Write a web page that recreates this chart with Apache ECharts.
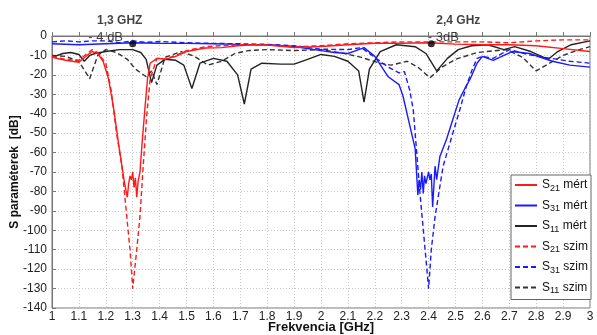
<!DOCTYPE html>
<html>
<head>
<meta charset="utf-8">
<script src="https://cdn.jsdelivr.net/npm/echarts@6/dist/echarts.min.js"></script>
<style>html,body{margin:0;padding:0;background:#fff}#c{width:597px;height:335px}</style>
</head>
<body>
<div id="c"></div>
<script>
// ---- data (frequency GHz, dB) ----
const s21Mert = [[1.0,-11],[1.05,-12.5],[1.1,-13.5],[1.13,-10],[1.15,-8],[1.17,-9],[1.19,-13],[1.21,-22],[1.23,-38],[1.25,-58],[1.27,-76],[1.28,-83],[1.285,-76],[1.29,-72],[1.295,-74],[1.30,-70],[1.305,-78],[1.31,-73],[1.315,-83],[1.32,-75],[1.327,-70],[1.335,-55],[1.345,-38],[1.355,-22],[1.365,-14],[1.39,-11.5],[1.42,-12],[1.46,-10.5],[1.5,-8],[1.57,-6.2],[1.63,-6],[1.69,-5],[1.75,-4.5],[1.8,-4.7],[1.9,-6],[2.0,-5.4],[2.1,-4.5],[2.2,-3.7],[2.3,-3.7],[2.4,-3.5],[2.5,-4.2],[2.6,-4.5],[2.7,-4.5],[2.8,-5],[2.9,-6.5],[3.0,-8]];
const s31Mert = [[1.0,-4],[1.1,-4.5],[1.2,-4],[1.3,-3.5],[1.4,-3.7],[1.5,-3.8],[1.6,-4],[1.7,-4.3],[1.8,-4.5],[1.9,-5.4],[2.0,-7.5],[2.05,-8.5],[2.1,-9],[2.13,-7.5],[2.16,-6],[2.2,-10.5],[2.25,-21],[2.29,-25],[2.305,-31],[2.325,-43],[2.35,-58],[2.356,-72],[2.36,-82],[2.365,-74],[2.37,-79],[2.375,-70],[2.38,-81],[2.385,-72],[2.39,-76],[2.40,-70],[2.405,-74],[2.41,-71],[2.415,-88],[2.424,-67],[2.43,-74],[2.442,-62],[2.467,-53],[2.49,-43],[2.513,-33],[2.535,-27],[2.555,-22],[2.58,-14],[2.6,-10.5],[2.64,-12.5],[2.71,-8],[2.775,-9],[2.86,-13],[2.925,-15],[3.0,-16]];
const s11Mert = [[1.0,-11],[1.04,-9],[1.07,-8.5],[1.10,-9.5],[1.12,-13],[1.14,-10],[1.16,-9],[1.20,-8],[1.25,-7],[1.30,-7],[1.33,-8.5],[1.35,-12],[1.37,-24],[1.39,-15],[1.42,-12],[1.46,-12.5],[1.49,-15],[1.52,-27],[1.55,-14],[1.60,-11.5],[1.65,-13],[1.69,-20],[1.715,-35],[1.74,-17],[1.78,-14],[1.85,-14.5],[1.9,-14.5],[1.95,-12],[2.0,-9.5],[2.05,-10.5],[2.1,-13],[2.14,-18],[2.16,-34],[2.18,-17],[2.22,-8],[2.28,-4.5],[2.35,-5.5],[2.39,-9],[2.43,-18],[2.47,-11.5],[2.51,-7],[2.56,-5],[2.62,-4.5],[2.68,-7],[2.72,-5.5],[2.78,-8],[2.845,-12],[2.88,-8],[2.93,-4.5],[3.0,-2.5]];
const s21Szim = [[1.0,-10.5],[1.05,-12],[1.1,-12.5],[1.13,-9],[1.15,-7],[1.17,-8.5],[1.2,-14],[1.22,-28],[1.24,-50],[1.26,-67],[1.278,-93],[1.29,-110],[1.30,-130],[1.315,-110],[1.327,-93],[1.339,-67],[1.352,-41],[1.365,-22],[1.39,-11.5],[1.42,-12],[1.46,-10],[1.5,-7.5],[1.57,-5.5],[1.63,-5],[1.7,-4.5],[1.8,-4.5],[1.9,-5.5],[2.0,-5],[2.1,-4],[2.2,-3.5],[2.3,-3],[2.4,-3],[2.5,-3],[2.6,-3],[2.7,-3.5],[2.8,-2.5],[2.9,-2],[3.0,-2]];
const s31Szim = [[1.0,-3],[1.05,-2.5],[1.1,-3],[1.15,-2.5],[1.2,-2.5],[1.25,-3.5],[1.3,-2.5],[1.35,-3.3],[1.4,-2.8],[1.5,-3.5],[1.6,-3.8],[1.7,-4],[1.8,-4.3],[1.9,-5],[2.0,-6.8],[2.1,-7],[2.15,-6],[2.2,-11],[2.25,-16],[2.29,-19],[2.31,-18.3],[2.33,-28],[2.343,-38],[2.368,-81],[2.387,-110],[2.4,-130],[2.41,-110],[2.424,-93],[2.454,-67],[2.49,-50],[2.516,-38],[2.54,-26],[2.56,-18],[2.58,-11.5],[2.6,-10.5],[2.64,-11.5],[2.7,-7],[2.775,-9.7],[2.85,-11.4],[2.925,-13],[3.0,-14]];
const s11Szim = [[1.0,-10],[1.05,-10.5],[1.1,-13],[1.14,-22],[1.17,-10],[1.2,-7],[1.24,-8.5],[1.28,-12],[1.31,-17],[1.35,-21],[1.37,-18],[1.39,-25],[1.42,-11],[1.48,-8],[1.53,-10.5],[1.58,-15],[1.63,-13],[1.68,-9],[1.73,-7.5],[1.8,-7],[1.9,-7.5],[2.0,-7],[2.07,-8.5],[2.15,-11],[2.22,-14],[2.26,-15],[2.32,-13],[2.36,-16],[2.405,-21.5],[2.45,-16],[2.5,-12],[2.58,-8.5],[2.69,-7],[2.75,-11],[2.80,-18],[2.85,-14],[2.9,-10],[2.96,-7],[3.0,-5.5]];
const markerPoints = [[1.3,-4],[2.41,-4]];
const markerTitles = ['1,3 GHZ','2,4 GHz'];
const markerDb = ['- 4 dB','- 3dB'];
const legendNames = ['S21 mért','S31 mért','S11 mért','S21 szim','S31 szim','S11 szim'];

const FONT = 'Liberation Sans, Arial, sans-serif';
const chart = echarts.init(document.getElementById('c'), null, {renderer:'canvas'});
const dash = [5,3];
function lineSeries(name, data, color, dashed, z){
  return {name, type:'line', data, symbol:'none', showSymbol:false, z,
    lineStyle:{color, width:1.4, type: dashed ? dash : 'solid'}, itemStyle:{color},
    emphasis:{disabled:true}, animation:false};
}
const titleOffsets = [[-13,-23],[27,-23]];
const dbOffsets = [[-27,-6],[12,-6]];
chart.setOption({
  animation:false,
  grid:{left:52,right:7,top:36,bottom:27,show:true,borderColor:'#777',borderWidth:1,containLabel:false,outerBoundsMode:'none'},
  xAxis:{type:'value',min:1,max:3,interval:0.1,
    name:'Frekvencia [GHz]',nameLocation:'middle',nameGap:13,nameMoveOverlap:false,
    nameTextStyle:{fontFamily:FONT,fontWeight:'bold',fontSize:13,color:'#111'},
    axisLine:{lineStyle:{color:'#777'}},axisTick:{inside:true,length:4,lineStyle:{color:'#777'}},
    axisLabel:{fontFamily:FONT,fontSize:12,color:'#222',margin:3},
    splitLine:{show:true,lineStyle:{color:'#c8c8c8',type:[1,2]}}},
  yAxis:{type:'value',min:-140,max:0,interval:10,
    name:'S paraméterek  [dB]',nameLocation:'middle',nameGap:31,nameMoveOverlap:false,
    nameTextStyle:{fontFamily:FONT,fontWeight:'bold',fontSize:12,color:'#111'},
    axisLine:{show:true,lineStyle:{color:'#777'}},axisTick:{show:true,inside:true,length:4,lineStyle:{color:'#777'}},
    axisLabel:{fontFamily:FONT,fontSize:12,color:'#222',margin:5},
    splitLine:{show:true,lineStyle:{color:'#c8c8c8',type:[1,2]}}},
  legend:{data:legendNames,orient:'vertical',left:511,top:175,
    backgroundColor:'#fff',borderColor:'#666',borderWidth:1,padding:[4,3,4,3],
    itemWidth:22,itemHeight:14,itemGap:6.5,
    itemStyle:{opacity:0,borderWidth:0},
    textStyle:{fontFamily:FONT,fontSize:12,color:'#111',
      rich:{m:{fontFamily:FONT,fontSize:12,color:'#111'},sub:{fontFamily:FONT,fontSize:9,color:'#111',padding:[7,0,0,0]}}},
    formatter:function(n){const p=n.split(' ');return '{m|S}{sub|'+p[0].slice(1)+'}{m| '+p[1]+'}';}},
  series:[
    lineSeries('S11 szim', s11Szim, '#333333', true, 2),
    lineSeries('S11 mért', s11Mert, '#222222', false, 3),
    lineSeries('S31 szim', s31Szim, '#1a1aff', true, 4),
    lineSeries('S31 mért', s31Mert, '#1a1aff', false, 5),
    lineSeries('S21 szim', s21Szim, '#ff1a1a', true, 6),
    lineSeries('S21 mért', s21Mert, '#ff1a1a', false, 7),
    {type:'scatter',name:'pts',data:markerPoints.map((p,i)=>({value:p,
        label:{show:true,formatter:markerDb[i],position:'inside',offset:dbOffsets[i],fontFamily:FONT,fontSize:13,color:'#111'}})),
      symbolSize:7,itemStyle:{color:'#000'},z:10,silent:true,animation:false},
    {type:'scatter',name:'titles',data:markerPoints.map((p,i)=>({value:p,
        label:{show:true,formatter:markerTitles[i],position:'inside',offset:titleOffsets[i],fontFamily:FONT,fontWeight:'bold',fontSize:12,color:'#111'}})),
      symbolSize:0,itemStyle:{color:'transparent'},z:10,silent:true,animation:false}
  ]
});
</script>
</body>
</html>
